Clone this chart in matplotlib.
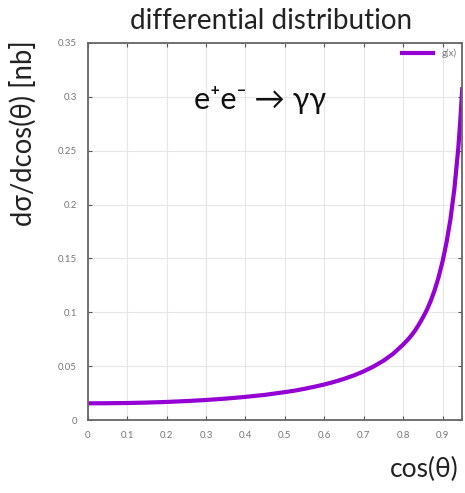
import matplotlib
matplotlib.use("Agg")
import matplotlib.pyplot as plt

plt.rcParams['font.family'] = ['Lato', 'DejaVu Sans']

# cos(theta) and dsigma/dcos(theta) [nb]
cos_theta = [0.0, 0.05, 0.1, 0.15, 0.2, 0.25, 0.3, 0.35, 0.4, 0.45, 0.5,
             0.525, 0.55, 0.575, 0.6, 0.625, 0.65, 0.675, 0.7, 0.725, 0.75,
             0.775, 0.8, 0.81, 0.82, 0.83, 0.84, 0.85, 0.86, 0.87,
             0.88, 0.89, 0.9, 0.91, 0.92, 0.93, 0.94, 0.945, 0.95]
dsigma = [0.0155, 0.0156, 0.0158, 0.0162, 0.0168, 0.0176, 0.0186, 0.0199,
          0.0215, 0.0234, 0.0259, 0.0273, 0.0290, 0.0309, 0.0330, 0.0354,
          0.0382, 0.0414, 0.0452, 0.0497, 0.0550, 0.0616, 0.0700, 0.0738,
          0.0780, 0.0829, 0.0886, 0.0950, 0.1020, 0.1105, 0.1205, 0.1325,
          0.1470, 0.1645, 0.1860, 0.2140, 0.2520, 0.2770, 0.3070]

x_ticks = [0, 0.1, 0.2, 0.3, 0.4, 0.5, 0.6, 0.7, 0.8, 0.9]
x_labels = ["0", "0.1", "0.2", "0.3", "0.4", "0.5", "0.6", "0.7", "0.8", "0.9"]
y_ticks = [0, 0.05, 0.1, 0.15, 0.2, 0.25, 0.3, 0.35]
y_labels = ["0", "0.05", "0.1", "0.15", "0.2", "0.25", "0.3", "0.35"]

fig = plt.figure(figsize=(4.65, 4.93), dpi=100)
ax = fig.add_axes([0.189, 0.148, 0.805, 0.765])

ax.plot(cos_theta, dsigma, color='#9400d3', lw=3, label='g(x)')
ax.set_xlim(0, 0.95)
ax.set_ylim(0, 0.35)
ax.set_xticks(x_ticks)
ax.set_xticklabels(x_labels)
ax.set_yticks(y_ticks)
ax.set_yticklabels(y_labels)
ax.tick_params(direction='in', top=True, right=True, length=3, width=0.8,
               color='#555555', labelsize=7, labelcolor='#777777', pad=8)
ax.grid(True, color='#e6e6e6', lw=0.8)
for s in ax.spines.values():
    s.set_color('#666666')
    s.set_linewidth(1.3)

leg = ax.legend(loc='upper right', frameon=False, fontsize=7,
                handlelength=3.2, borderaxespad=0.2)
for t in leg.get_texts():
    t.set_color('#777777')

fig.text(0.583, 0.958, "differential distribution", ha='center', va='center',
         fontsize=20, color='#222222')
fig.text(0.05, 0.729, "dσ/dcos(θ) [nb]", rotation=90, ha='center', va='center',
         fontsize=19.8, color='#222222')
fig.text(0.912, 0.047, "cos(θ)", ha='center', va='center',
         fontsize=19, color='#222222')
fig.text(0.56, 0.797, "e⁺e⁻ → γγ", ha='center', va='center',
         fontsize=22, color='#111111', family=['Lato', 'DejaVu Sans'])

fig.savefig("out.png", dpi=100)
